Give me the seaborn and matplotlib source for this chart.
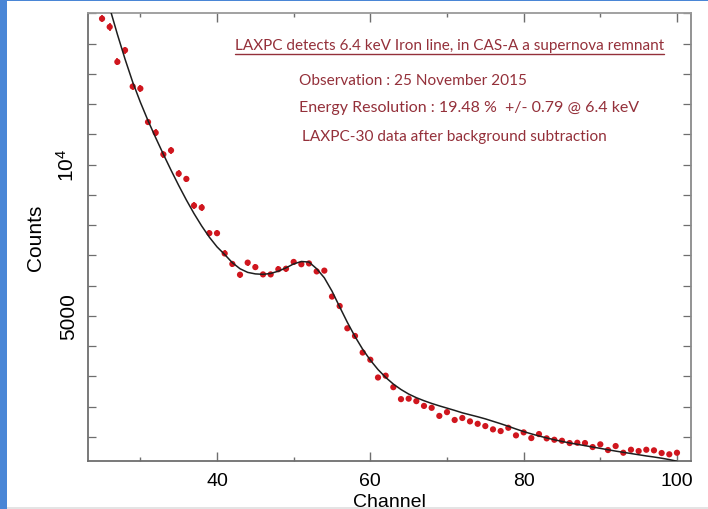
import numpy as np
import pandas as pd
import matplotlib
matplotlib.use("Agg")
import matplotlib.pyplot as plt
import seaborn as sns
from matplotlib.patches import Rectangle
from matplotlib.lines import Line2D

# ---------------- data ----------------
channels = list(range(25, 101))

counts = [14823, 14550, 13396, 13781, 12581, 12515, 11408, 11055, 10339, 10471,
          9703, 9528, 8648, 8582, 7735, 7735, 7065, 6719, 6363, 6762,
          6614, 6373, 6373, 6544, 6561, 6785, 6709, 6736, 6472, 6498,
          5641, 5328, 4593, 4339, 3792, 3554, 2967, 3027, 2647, 2252,
          2268, 2186, 2028, 1965, 1698, 1823, 1563, 1629, 1517, 1437,
          1362, 1253, 1197, 1306, 1055, 1154, 966, 1098, 956, 910,
          877, 801, 811, 801, 669, 758, 570, 702, 481, 580,
          537, 580, 560, 471, 429, 481]

errors = [120, 120, 118, 118, 116, 116, 114, 112, 110, 110,
          108, 106, 104, 102, 100, 100, 98, 96, 95, 95,
          94, 94, 93, 93, 92, 92, 92, 91, 91, 90,
          88, 86, 82, 80, 76, 74, 70, 70, 67, 63,
          63, 62, 60, 59, 56, 57, 54, 55, 53, 52,
          51, 49, 48, 50, 46, 47, 44, 46, 44, 43,
          42, 41, 41, 41, 39, 40, 37, 39, 35, 37,
          36, 37, 36, 34, 33, 34]

model = [16070, 15180, 14308, 13488, 12728, 12063, 11453, 10888, 10343, 9818,
         9313, 8833, 8383, 7973, 7603, 7283, 7030, 6760, 6560, 6440,
         6390, 6375, 6405, 6480, 6590, 6720, 6800, 6780, 6560, 6260,
         5820, 5300, 4790, 4320, 3900, 3540, 3230, 2970, 2750, 2570,
         2420, 2300, 2200, 2110, 2030, 1955, 1880, 1800, 1735, 1670,
         1600, 1520, 1440, 1355, 1265, 1180, 1105, 1035, 970, 910,
         855, 805, 760, 715, 670, 625, 580, 535, 495, 455,
         415, 375, 340, 300, 255, 200]

x_major = [40, 60, 80, 100]
x_minor = [30, 50, 70, 90]
y_ticks = list(range(1000, 16000, 1000))
y_labels = {5000: "5000", 10000: "10$^4$"}

title_text = "LAXPC detects 6.4 keV Iron line, in CAS-A a supernova remnant"
info_lines = ["Observation : 25 November 2015",
              "Energy Resolution : 19.48 %  +/- 0.79 @ 6.4 keV",
              "LAXPC-30 data after background subtraction"]

df = pd.DataFrame({"Channel": channels, "Counts": counts, "err": errors, "model": model})

# ---------------- style ----------------
sns.set_theme(style="ticks")
plt.rcParams["font.family"] = ["Liberation Sans", "DejaVu Sans"]
plt.rcParams["mathtext.fontset"] = "custom"
plt.rcParams["mathtext.rm"] = "Liberation Sans"
plt.rcParams["mathtext.it"] = "Liberation Sans"
plt.rcParams["mathtext.bf"] = "Liberation Sans"

W, H = 708, 510
fig = plt.figure(figsize=(W / 100, H / 100), dpi=100)
fig.patch.set_facecolor("white")
ax = fig.add_axes([88 / W, 1 - 462 / H, (691 - 88) / W, (462 - 14) / H])

red = "#d0161e"
spine_col = "#6e6e6e"

ax.errorbar(df["Channel"], df["Counts"], yerr=df["err"], fmt="none",
            ecolor=red, elinewidth=1.2, capsize=0, zorder=3)
sns.scatterplot(data=df, x="Channel", y="Counts", color=red, s=20,
                edgecolor="none", linewidth=0, ax=ax, zorder=4)
sns.lineplot(data=df, x="Channel", y="model", color="#1e1e1e", linewidth=1.1,
             ax=ax, zorder=5)

ax.set_xlim(23.17, 101.83)
ax.set_ylim(208, 15010)

ax.set_xticks(x_major)
ax.set_xticks(x_minor, minor=True)
ax.set_xticklabels([str(v) for v in x_major], fontsize=14)
ax.set_yticks(y_ticks)
ax.set_yticklabels([y_labels.get(v, "") for v in y_ticks], fontsize=15,
                   rotation=90, va="center")
ax.yaxis.set_minor_locator(matplotlib.ticker.NullLocator())

ax.tick_params(axis="x", which="major", direction="in", length=6.5, width=1.0,
               color=spine_col, top=True, bottom=True, pad=8, labelcolor="black")
ax.tick_params(axis="x", which="minor", direction="in", length=3, width=1.0,
               color=spine_col, top=True, bottom=True)
ax.tick_params(axis="y", which="major", direction="in", length=6, width=0.9,
               color=spine_col, left=True, right=True, pad=7, labelcolor="black")

for sp in ax.spines.values():
    sp.set_color(spine_col)
    sp.set_linewidth(1.3)
ax.spines["top"].set_color("#9a9a9a")
ax.spines["right"].set_color("#8a8a8a")

ax.set_xlabel("Channel", fontsize=14, labelpad=3, color="black")
ax.set_ylabel("Counts", fontsize=15, labelpad=8, color="black")

# ---------------- annotation text ----------------
txt_col = "#94303a"
ann_font = ["Lato", "DejaVu Sans"]


def ax_x(px):
    return (px - 88) / (691 - 88)


def ax_y(py):
    return (462 - py) / (462 - 14)


t_title = ax.text(ax_x(235), ax_y(46), title_text, transform=ax.transAxes,
                  fontsize=11, color=txt_col, family=ann_font, va="center", ha="left")
t1 = ax.text(ax_x(299), ax_y(81), info_lines[0], transform=ax.transAxes,
             fontsize=11, color=txt_col, family=ann_font, va="center", ha="left")
t2 = ax.text(ax_x(299), ax_y(108), info_lines[1], transform=ax.transAxes,
             fontsize=11, color=txt_col, family=ann_font, va="center", ha="left")
t3 = ax.text(ax_x(302), ax_y(137), info_lines[2], transform=ax.transAxes,
             fontsize=11, color=txt_col, family=ann_font, va="center", ha="left")

targets = [(t_title, 427), (t1, 228), (t2, 339), (t3, 304)]
fig.canvas.draw()
renderer = fig.canvas.get_renderer()
for t, target in targets:
    w = t.get_window_extent(renderer).width
    t.set_fontsize(t.get_fontsize() * target / w)
fig.canvas.draw()

# underline for the title
bb = t_title.get_window_extent(renderer)
inv = fig.transFigure.inverted()
(x0, y0) = inv.transform((bb.x0, H - 55.5))
(x1, _) = inv.transform((bb.x1, H - 55.5))
fig.add_artist(Line2D([x0, x1], [y0, y0], transform=fig.transFigure,
                      color=txt_col, linewidth=1.0))

# ---------------- frame of the slide ----------------
fig.add_artist(Rectangle((0, 0), 7 / W, 1, transform=fig.transFigure,
                         facecolor="#4a86d6", edgecolor="none"))
fig.add_artist(Rectangle((0, 1 - 2 / H), 1, 2 / H, transform=fig.transFigure,
                         facecolor="#4a86d6", edgecolor="none"))
fig.add_artist(Rectangle((7 / W, 0), 1, 2 / H, transform=fig.transFigure,
                         facecolor="#e4e4e4", edgecolor="none"))

fig.savefig("out.png", dpi=100)
